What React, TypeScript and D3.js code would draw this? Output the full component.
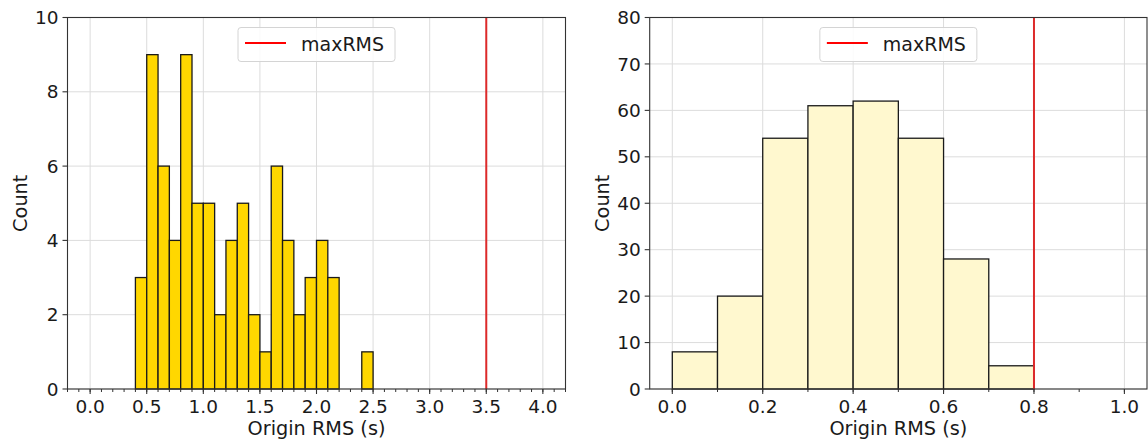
import React from "react";
import * as d3 from "d3";

// ---- data ----
const leftBinStarts = [0.4, 0.5, 0.6, 0.7, 0.8, 0.9, 1.0, 1.1, 1.2, 1.3, 1.4, 1.5, 1.6, 1.7, 1.8, 1.9, 2.0, 2.1, 2.2, 2.3, 2.4];
const leftCounts = [3, 9, 6, 4, 9, 5, 5, 2, 4, 5, 2, 1, 6, 4, 2, 3, 4, 3, 0, 0, 1];
const leftBinWidth = 0.1;
const leftMaxRMS = 3.5;
const leftXTicks = [0, 0.5, 1.0, 1.5, 2.0, 2.5, 3.0, 3.5, 4.0];
const leftYTicks = [0, 2, 4, 6, 8, 10];

const rightBinStarts = [0.0, 0.1, 0.2, 0.3, 0.4, 0.5, 0.6, 0.7];
const rightCounts = [8, 20, 54, 61, 62, 54, 28, 5];
const rightBinWidth = 0.1;
const rightMaxRMS = 0.8;
const rightXTicks = [0, 0.2, 0.4, 0.6, 0.8, 1.0];
const rightYTicks = [0, 10, 20, 30, 40, 50, 60, 70, 80];

const xLabel = "Origin RMS (s)";
const yLabel = "Count";
const legendLabel = "maxRMS";

const FONT = "DejaVu Sans, sans-serif";

type PanelProps = {
  x0: number; x1: number; y0: number; y1: number;
  xDomain: [number, number]; yDomain: [number, number];
  binStarts: number[]; counts: number[]; binWidth: number;
  maxRMS: number; xTicks: number[]; yTicks: number[];
  minorStep: number; fill: string; xFmt: (v: number) => string;
};

function Panel(p: PanelProps) {
  const x = d3.scaleLinear().domain(p.xDomain).range([p.x0, p.x1]);
  const y = d3.scaleLinear().domain(p.yDomain).range([p.y1, p.y0]);
  const minor = d3.range(Math.ceil(p.xDomain[0] / p.minorStep), Math.floor(p.xDomain[1] / p.minorStep) + 1)
    .map((i) => i * p.minorStep);
  const cx = (p.x0 + p.x1) / 2;
  const legW = 157, legH = 34;
  const legX = cx - legW / 2, legY = p.y0 + 10;
  return (
    <g>
      {/* grid */}
      {p.xTicks.map((t) => (
        <line key={"gx" + t} x1={x(t)} x2={x(t)} y1={p.y0} y2={p.y1} stroke="#dcdcdc" strokeWidth={1} />
      ))}
      {p.yTicks.map((t) => (
        <line key={"gy" + t} x1={p.x0} x2={p.x1} y1={y(t)} y2={y(t)} stroke="#dcdcdc" strokeWidth={1} />
      ))}
      {/* bars */}
      {p.binStarts.map((b, i) =>
        p.counts[i] > 0 ? (
          <rect key={"b" + i} x={x(b)} y={y(p.counts[i])} width={x(b + p.binWidth) - x(b)}
            height={y(0) - y(p.counts[i])} fill={p.fill} stroke="#1a1a1a" strokeWidth={1.3} />
        ) : null
      )}
      {/* maxRMS line */}
      <line x1={x(p.maxRMS)} x2={x(p.maxRMS)} y1={p.y0} y2={p.y1} stroke="#dd2a2a" strokeWidth={2} />
      {/* spines */}
      <rect x={p.x0} y={p.y0} width={p.x1 - p.x0} height={p.y1 - p.y0} fill="none" stroke="#333" strokeWidth={1.1} />
      {/* x ticks */}
      {minor.map((t) => (
        <line key={"mx" + t} x1={x(t)} x2={x(t)} y1={p.y1} y2={p.y1 + 3} stroke="#333" strokeWidth={1} />
      ))}
      {p.xTicks.map((t) => (
        <g key={"tx" + t}>
          <line x1={x(t)} x2={x(t)} y1={p.y1} y2={p.y1 + 5} stroke="#333" strokeWidth={1.1} />
          <text x={x(t)} y={p.y1 + 24} textAnchor="middle" fontSize={18.5} fontFamily={FONT} fill="#1a1a1a">{p.xFmt(t)}</text>
        </g>
      ))}
      {p.yTicks.map((t) => (
        <g key={"ty" + t}>
          <line x1={p.x0 - 5} x2={p.x0} y1={y(t)} y2={y(t)} stroke="#333" strokeWidth={1.1} />
          <text x={p.x0 - 9} y={y(t)} dy="0.36em" textAnchor="end" fontSize={18.5} fontFamily={FONT} fill="#1a1a1a">{t}</text>
        </g>
      ))}
      {/* axis labels */}
      <text x={cx} y={p.y1 + 46} textAnchor="middle" fontSize={19.3} fontFamily={FONT} fill="#1a1a1a">{xLabel}</text>
      <text transform={`translate(${p.x0 - 41},${(p.y0 + p.y1) / 2}) rotate(-90)`} textAnchor="middle" fontSize={19.3} fontFamily={FONT} fill="#1a1a1a">{yLabel}</text>
      {/* legend */}
      <rect x={legX} y={legY} width={legW} height={legH} rx={3} fill="white" fillOpacity={0.85} stroke="#d4d4d4" strokeWidth={1} />
      <line x1={legX + 7} x2={legX + 48} y1={legY + 15.5} y2={legY + 15.5} stroke="red" strokeWidth={2} />
      <text x={legX + 63} y={legY + 23.5} fontSize={19} fontFamily={FONT} fill="#1a1a1a">{legendLabel}</text>
    </g>
  );
}

export default function App() {
  return (
    <svg width={1148} height={442} style={{ position: "absolute", left: 0, top: 0, background: "white" }}>
      <Panel x0={67.5} x1={565.5} y0={17.5} y1={389} xDomain={[-0.2, 4.2]} yDomain={[0, 10]}
        binStarts={leftBinStarts} counts={leftCounts} binWidth={leftBinWidth} maxRMS={leftMaxRMS}
        xTicks={leftXTicks} yTicks={leftYTicks} minorStep={0.1} fill="#FFD700" xFmt={(v) => v.toFixed(1)} />
      <Panel x0={649.7} x1={1147} y0={17.5} y1={389} xDomain={[-0.05, 1.05]} yDomain={[0, 80]}
        binStarts={rightBinStarts} counts={rightCounts} binWidth={rightBinWidth} maxRMS={rightMaxRMS}
        xTicks={rightXTicks} yTicks={rightYTicks} minorStep={0.1} fill="#FFF8CF" xFmt={(v) => v.toFixed(1)} />
    </svg>
  );
}
